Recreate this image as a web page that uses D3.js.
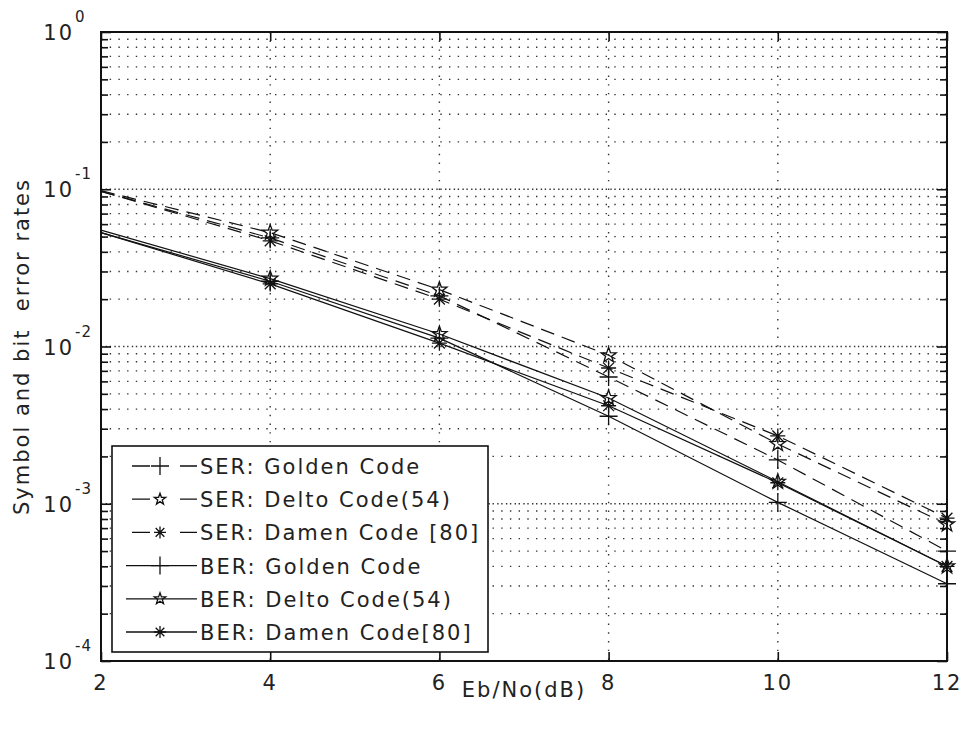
<!DOCTYPE html>
<html>
<head>
<meta charset="utf-8">
<script src="https://cdn.jsdelivr.net/npm/d3@7"></script>
<style>
  body { margin: 0; background: #fff; }
  svg text { font-family: "DejaVu Sans", sans-serif; fill: #222; }
</style>
</head>
<body>
<svg id="chart" width="963" height="731"></svg>
<script>
// Eb/No sample points (dB)
const ebno = [2, 4, 6, 8, 10, 12];

// Symbol error rates
const serGolden = [0.097, 0.049, 0.021, 0.0064, 0.0019, 0.00050];
const serDelto  = [0.098, 0.053, 0.023, 0.0088, 0.0024, 0.00074];
const serDamen  = [0.097, 0.047, 0.020, 0.0073, 0.0027, 0.00081];

// Bit error rates
const berGolden = [0.053, 0.026, 0.0113, 0.0036, 0.00102, 0.00031];
const berDelto  = [0.055, 0.027, 0.0120, 0.0047, 0.00138, 0.00040];
const berDamen  = [0.053, 0.025, 0.0105, 0.0042, 0.00136, 0.00040];

const xTicks = [2, 4, 6, 8, 10, 12];
const yExponents = [0, -1, -2, -3, -4];

const seriesNames = [
  "SER: Golden Code", "SER: Delto Code(54)", "SER: Damen Code [80]",
  "BER: Golden Code", "BER: Delto Code(54)", "BER: Damen Code[80]"
];

const series = [
  { name: seriesNames[0], values: serGolden, dashed: true,  marker: "plus" },
  { name: seriesNames[1], values: serDelto,  dashed: true,  marker: "star" },
  { name: seriesNames[2], values: serDamen,  dashed: true,  marker: "asterisk" },
  { name: seriesNames[3], values: berGolden, dashed: false, marker: "plus" },
  { name: seriesNames[4], values: berDelto,  dashed: false, marker: "star" },
  { name: seriesNames[5], values: berDamen,  dashed: false, marker: "asterisk" }
];

const svg = d3.select("#chart");
const plotL = 101, plotR = 947, plotT = 32, plotB = 661;

const x = d3.scaleLinear().domain([2, 12]).range([plotL, plotR]);
const y = d3.scaleLog().domain([1e-4, 1]).range([plotB, plotT]);

// grid: values 1..9 in each decade
const minorVals = [];
for (let e = -4; e < 0; e++) for (let m = 1; m <= 9; m++) minorVals.push(m * Math.pow(10, e));

const grid = svg.append("g");
grid.selectAll("line.h").data(minorVals.filter(v => v > 1e-4 && v < 1)).join("line")
  .attr("x1", plotL).attr("x2", plotR)
  .attr("y1", d => y(d)).attr("y2", d => y(d))
  .attr("stroke", "#333").attr("stroke-width", 1.4)
  .attr("stroke-dasharray", "1.4,7.3");
// decade lines carry both the major and minor grid, giving denser dots
grid.selectAll("line.hm").data([1e-3, 1e-2, 1e-1]).join("line")
  .attr("x1", plotL).attr("x2", plotR)
  .attr("y1", d => y(d)).attr("y2", d => y(d))
  .attr("stroke", "#333").attr("stroke-width", 1.4)
  .attr("stroke-dasharray", "1.4,7.3").attr("stroke-dashoffset", 4);
grid.selectAll("line.v").data(xTicks.slice(1, -1)).join("line")
  .attr("x1", d => x(d)).attr("x2", d => x(d))
  .attr("y1", plotT).attr("y2", plotB)
  .attr("stroke", "#333").attr("stroke-width", 1.4)
  .attr("stroke-dasharray", "1.4,7.3");

// axes with inward ticks
const axisG = svg.append("g");
const yMinor = minorVals.filter(v => v > 1e-4 && v < 1 && Math.abs(Math.log10(v) - Math.round(Math.log10(v))) > 1e-6);
const yMajor = yExponents.map(e => Math.pow(10, e));

axisG.append("g").attr("transform", `translate(${plotL},0)`)
  .call(d3.axisLeft(y).tickValues(yMinor).tickSizeInner(-7).tickSizeOuter(0).tickFormat(""))
  .call(g => g.select(".domain").remove());
axisG.append("g").attr("transform", `translate(${plotR},0)`)
  .call(d3.axisRight(y).tickValues(yMinor).tickSizeInner(-7).tickSizeOuter(0).tickFormat(""))
  .call(g => g.select(".domain").remove());
axisG.append("g").attr("transform", `translate(${plotL},0)`)
  .call(d3.axisLeft(y).tickValues(yMajor).tickSizeInner(-10).tickSizeOuter(0).tickFormat(""))
  .call(g => g.select(".domain").remove());
axisG.append("g").attr("transform", `translate(${plotR},0)`)
  .call(d3.axisRight(y).tickValues(yMajor).tickSizeInner(-10).tickSizeOuter(0).tickFormat(""))
  .call(g => g.select(".domain").remove());
axisG.append("g").attr("transform", `translate(0,${plotB})`)
  .call(d3.axisBottom(x).tickValues(xTicks).tickSizeInner(-9).tickSizeOuter(0).tickFormat(""))
  .call(g => g.select(".domain").remove());
axisG.append("g").attr("transform", `translate(0,${plotT})`)
  .call(d3.axisTop(x).tickValues(xTicks).tickSizeInner(-9).tickSizeOuter(0).tickFormat(""))
  .call(g => g.select(".domain").remove());
axisG.selectAll(".tick line").attr("stroke", "#111").attr("stroke-width", 1.6);

// frame
svg.append("rect").attr("x", plotL).attr("y", plotT)
  .attr("width", plotR - plotL).attr("height", plotB - plotT)
  .attr("fill", "none").attr("stroke", "#111").attr("stroke-width", 2);

// tick labels
const tickFont = 21, spacing = 2;
svg.append("g").selectAll("text").data(xTicks).join("text")
  .attr("x", d => x(d)).attr("y", plotB + 29)
  .attr("text-anchor", "middle").attr("font-size", tickFont)
  .attr("letter-spacing", spacing)
  .text(d => d);

const yl = svg.append("g").selectAll("g").data(yExponents).join("g")
  .attr("transform", e => `translate(0,${y(Math.pow(10, e))})`);
yl.append("text").attr("x", 74).attr("y", 8)
  .attr("text-anchor", "end").attr("font-size", tickFont).attr("letter-spacing", spacing)
  .text("10");
yl.append("text").attr("x", 75).attr("y", -10)
  .attr("text-anchor", "start").attr("font-size", 15).attr("letter-spacing", 1)
  .text(e => e);

// axis titles
svg.append("text").attr("x", (plotL + plotR) / 2).attr("y", 697)
  .attr("text-anchor", "middle").attr("font-size", tickFont).attr("letter-spacing", spacing)
  .text("Eb/No(dB)");
svg.append("text")
  .attr("transform", `translate(29,${(plotT + plotB) / 2}) rotate(-90)`)
  .attr("text-anchor", "middle").attr("font-size", tickFont).attr("letter-spacing", spacing)
  .style("white-space", "pre")
  .text("Symbol and bit  error rates");

// marker shapes
function starPath(r) {
  const pts = [];
  for (let i = 0; i < 10; i++) {
    const a = -Math.PI / 2 + i * Math.PI / 5;
    const rr = i % 2 === 0 ? r : r * 0.4;
    pts.push([rr * Math.cos(a), rr * Math.sin(a)]);
  }
  return "M" + pts.map(p => p.join(",")).join("L") + "Z";
}
function drawMarker(g, type, size) {
  const h = size / 2;
  if (type === "plus") {
    g.append("path").attr("d", `M${-h},0H${h}M0,${-h}V${h}`);
  } else if (type === "star") {
    g.append("path").attr("d", starPath(h));
  } else {
    const d = h * 0.72;
    g.append("path").attr("d", `M${-h},0H${h}M0,${-h}V${h}M${-d},${-d}L${d},${d}M${-d},${d}L${d},${-d}`);
  }
}
const markerSize = { plus: 18, star: 16, asterisk: 15 };
const legendMarkerSize = { plus: 18, star: 12, asterisk: 12 };

// series lines; the curves enter at the left edge, markers sit on the later samples
const line = d3.line().x((d, i) => x(ebno[i])).y(d => y(d));
const plot = svg.append("g");
series.forEach(s => {
  plot.append("path").datum(s.values)
    .attr("d", line).attr("fill", "none")
    .attr("stroke", "#111").attr("stroke-width", 1.2)
    .attr("stroke-dasharray", s.dashed ? "14,8" : null);
  s.values.forEach((v, i) => {
    if (ebno[i] <= x.domain()[0]) return;
    const g = plot.append("g").attr("transform", `translate(${x(ebno[i])},${y(v)})`)
      .attr("fill", "none").attr("stroke", "#111").attr("stroke-width", 1.3);
    drawMarker(g, s.marker, markerSize[s.marker]);
  });
});

// legend
const lg = svg.append("g");
const lgX = 112, lgY = 446, lgW = 376, lgH = 206, rowH = 33.2;
lg.append("rect").attr("x", lgX).attr("y", lgY).attr("width", lgW).attr("height", lgH)
  .attr("fill", "#fff").attr("stroke", "#111").attr("stroke-width", 1.6);
series.forEach((s, i) => {
  const cy = lgY + 20 + i * rowH;
  const row = lg.append("g").attr("transform", `translate(0,${cy})`);
  if (s.dashed) {
    row.append("path").attr("d", `M${lgX + 20},0H${lgX + 38}M${lgX + 68},0H${lgX + 85}`)
      .attr("stroke", "#111").attr("stroke-width", 1.3);
  } else {
    row.append("line").attr("x1", lgX + 14).attr("x2", lgX + 85).attr("y1", 0).attr("y2", 0)
      .attr("stroke", "#111").attr("stroke-width", 1.3);
  }
  const mg = row.append("g").attr("transform", `translate(${lgX + 48},0)`)
    .attr("fill", "none").attr("stroke", "#111").attr("stroke-width", 1.3);
  drawMarker(mg, s.marker, legendMarkerSize[s.marker]);
  row.append("text").attr("x", lgX + 88).attr("y", 8)
    .attr("font-size", tickFont).attr("letter-spacing", spacing)
    .text(s.name);
});
</script>
</body>
</html>
